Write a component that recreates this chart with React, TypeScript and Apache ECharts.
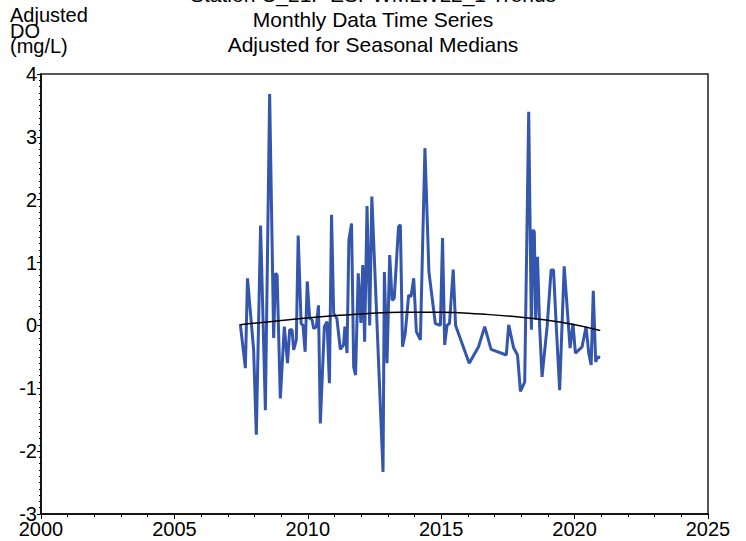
import React, { useEffect, useRef } from "react";
import * as echarts from "echarts";

const years = [
  2007.47, 2007.66, 2007.74, 2007.97, 2008.07, 2008.23, 2008.41, 2008.57, 2008.72, 2008.79,
  2008.85, 2008.97, 2009.12, 2009.24, 2009.32, 2009.41, 2009.47, 2009.57, 2009.64, 2009.75,
  2009.82, 2009.9, 2009.98, 2010.07, 2010.16, 2010.22, 2010.32, 2010.4, 2010.47, 2010.62,
  2010.72, 2010.81, 2010.89, 2010.97, 2011.09, 2011.22, 2011.34, 2011.39, 2011.47, 2011.54,
  2011.64, 2011.72, 2011.79, 2011.89, 2011.99, 2012.06, 2012.13, 2012.22, 2012.32, 2012.4,
  2012.82, 2012.87, 2012.97, 2013.07, 2013.16, 2013.24, 2013.4, 2013.47, 2013.55, 2013.65,
  2013.78, 2013.87, 2013.97, 2014.07, 2014.22, 2014.39, 2014.54, 2014.78, 2014.97, 2015.05,
  2015.13, 2015.22, 2015.31, 2015.45, 2015.54, 2016.05, 2016.4, 2016.63, 2016.87, 2017.44,
  2017.53, 2017.71, 2017.86, 2017.97, 2018.13, 2018.28, 2018.38, 2018.44, 2018.49, 2018.54,
  2018.61, 2018.69, 2018.78, 2018.97, 2019.12, 2019.21, 2019.31, 2019.44, 2019.61, 2019.83,
  2019.94, 2020.03, 2020.28, 2020.43, 2020.53, 2020.62, 2020.7, 2020.79, 2020.86, 2020.96,
];
const values = [
  0.02, -0.68, 0.75, -0.39, -1.74, 1.59, -1.35, 3.68, -0.2, 0.83,
  0.8, -1.16, -0.02, -0.6, -0.07, -0.07, -0.39, -0.23, 1.43, 0.03,
  0.0, -0.42, 0.7, 0.11, 0.09, -0.05, -0.02, 0.32, -1.56, -0.02,
  0.06, -0.92, 1.76, 0.19, 0.11, -0.38, -0.31, -0.02, -0.44, 1.36,
  1.62, -0.66, -0.79, 0.83, 0.04, 0.96, -0.26, 1.9, 0.0, 2.05,
  -2.33, 0.85, -0.6, 1.12, 0.4, 0.43, 1.57, 1.6, -0.34, -0.13,
  0.48, 0.46, 0.75, -0.1, -0.23, 2.82, 0.85, 0.03, 0.0, 1.39,
  -0.31, 0.0, 0.03, 0.89, 0.0, -0.6, -0.34, -0.02, -0.38, -0.47,
  0.01, -0.35, -0.47, -1.05, -0.9, 3.4, -0.07, 1.52, 1.49, 0.09,
  1.09, -0.02, -0.82, -0.02, 0.88, 0.88, 0.01, -1.03, 0.94, -0.36,
  0.03, -0.44, -0.34, -0.02, -0.44, -0.63, 0.55, -0.58, -0.5, -0.51,
];
const trendYears = [2007.47, 2009, 2010.5, 2012, 2013.5, 2015, 2016.5, 2018, 2019.5, 2020.96];
const trendValues = [0.01, 0.08, 0.14, 0.18, 0.21, 0.21, 0.18, 0.13, 0.05, -0.08];
const titleLines = [
  "Station C_21F ESPWMLWL2_1 Trends",
  "Monthly Data Time Series",
  "Adjusted for Seasonal Medians",
];
const yNameLines = ["Adjusted", "DO", "(mg/L)"];

const FONT = "'Liberation Sans', Arial, sans-serif";

export default function App() {
  const ref = useRef<HTMLDivElement>(null);
  useEffect(() => {
    const chart = echarts.init(ref.current!, null, { renderer: "svg" });
    const titleY = [-6, 19, 44];
    const nameY = [15, 31, 46];
    chart.setOption({
      animation: false,
      backgroundColor: "#fff",
      grid: {
        left: 41,
        right: 38,
        top: 74,
        bottom: 27,
        show: true,
        borderColor: "#222",
        borderWidth: 1.5,
        backgroundColor: "transparent",
      },
      xAxis: {
        type: "value",
        min: 2000,
        max: 2025,
        interval: 5,
        axisLine: { show: true, onZero: false, lineStyle: { color: "#000", width: 1.5 } },
        axisTick: { show: true, length: 5, lineStyle: { color: "#000" } },
        minorTick: { show: true, splitNumber: 5, length: 3, lineStyle: { color: "#000" } },
        splitLine: { show: false },
        axisLabel: {
          color: "#000",
          fontFamily: FONT,
          fontSize: 20,
          margin: 5,
          formatter: (v: number) => String(v),
        },
      },
      yAxis: {
        type: "value",
        min: -3,
        max: 4,
        interval: 1,
        axisLine: { show: true, onZero: false, lineStyle: { color: "#000", width: 1.5 } },
        axisTick: { show: true, length: 4, lineStyle: { color: "#000" } },
        minorTick: { show: true, splitNumber: 10, length: 2, lineStyle: { color: "#000" } },
        splitLine: { show: false },
        axisLabel: {
          color: "#000",
          fontFamily: FONT,
          fontSize: 20,
          margin: 4,
        },
      },
      graphic: [
        ...titleLines.map((t, i) => ({
          type: "text",
          x: 373,
          y: titleY[i],
          style: {
            text: t,
            fill: "#000",
            font: `21px ${FONT}`,
            textAlign: "center",
            textVerticalAlign: "middle",
          },
        })),
        ...yNameLines.map((t, i) => ({
          type: "text",
          x: 10,
          y: nameY[i],
          style: {
            text: t,
            fill: "#000",
            font: `20px ${FONT}`,
            textAlign: "left",
            textVerticalAlign: "middle",
          },
        })),
      ],
      series: [
        {
          type: "line",
          data: years.map((y, i) => [y, values[i]]),
          showSymbol: false,
          lineStyle: { color: "#3456ad", width: 3 },
          z: 2,
        },
        {
          type: "line",
          data: trendYears.map((y, i) => [y, trendValues[i]]),
          showSymbol: false,
          smooth: true,
          lineStyle: { color: "#000", width: 1.5 },
          z: 3,
        },
      ],
    });
    return () => chart.dispose();
  }, []);
  return (
    <div
      ref={ref}
      style={{ position: "fixed", left: 0, top: 0, width: 746, height: 541, background: "#fff" }}
    />
  );
}
